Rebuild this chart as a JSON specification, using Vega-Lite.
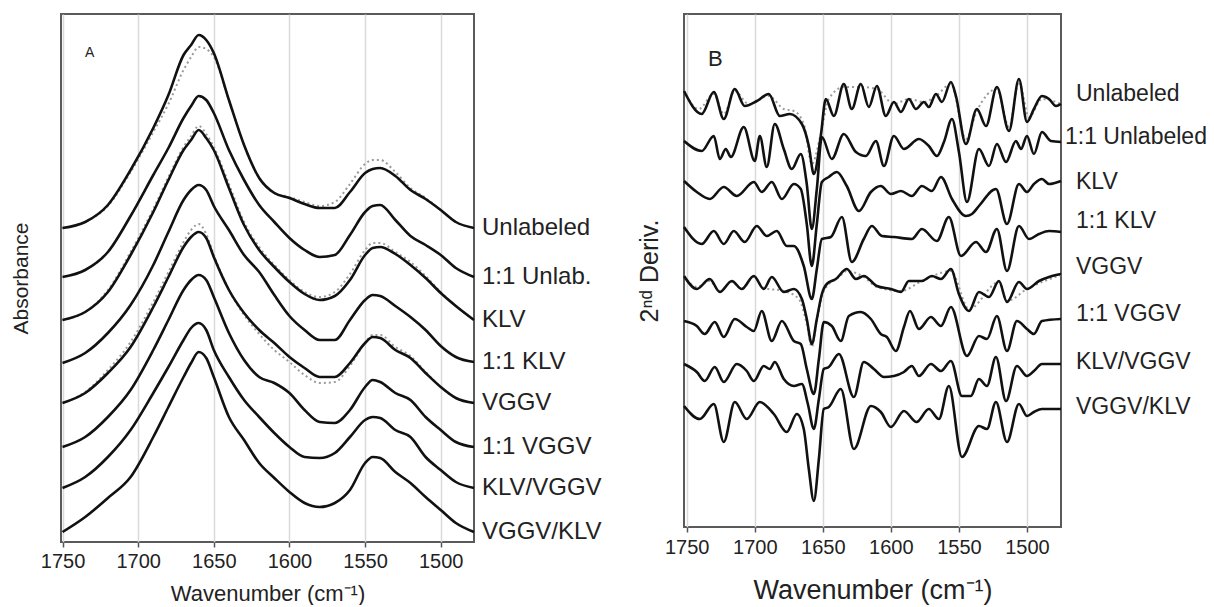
{
"$schema": "https://vega.github.io/schema/vega-lite/v6.json",
"background": "white",
"padding": {"left": 9, "top": 13, "right": 0, "bottom": 0},
"spacing": 33,
"config": {"font": "Liberation Sans", "view": {"stroke": "#5a5a5a", "strokeWidth": 2}, "axis": {"labelColor": "#222", "titleColor": "#222", "titleFontWeight": "normal", "labelFont": "Liberation Sans", "titleFont": "Liberation Sans"}},
"datasets": {
"a": [
{"s":"Unlabeled","k":"solid","wn":1750,"y":3.14},{"s":"Unlabeled","k":"solid","wn":1735,"y":3.20},{"s":"Unlabeled","k":"solid","wn":1720,"y":3.37},{"s":"Unlabeled","k":"solid","wn":1705,"y":3.72},{"s":"Unlabeled","k":"solid","wn":1690,"y":4.14},{"s":"Unlabeled","k":"solid","wn":1680,"y":4.47},{"s":"Unlabeled","k":"solid","wn":1670,"y":4.87},{"s":"Unlabeled","k":"solid","wn":1665,"y":4.97},{"s":"Unlabeled","k":"solid","wn":1660,"y":5.07},{"s":"Unlabeled","k":"solid","wn":1655,"y":5.02},{"s":"Unlabeled","k":"solid","wn":1650,"y":4.89},{"s":"Unlabeled","k":"solid","wn":1640,"y":4.42},{"s":"Unlabeled","k":"solid","wn":1630,"y":3.97},{"s":"Unlabeled","k":"solid","wn":1620,"y":3.64},{"s":"Unlabeled","k":"solid","wn":1610,"y":3.49},{"s":"Unlabeled","k":"solid","wn":1600,"y":3.44},{"s":"Unlabeled","k":"solid","wn":1590,"y":3.38},{"s":"Unlabeled","k":"solid","wn":1580,"y":3.34},{"s":"Unlabeled","k":"solid","wn":1570,"y":3.34},{"s":"Unlabeled","k":"solid","wn":1560,"y":3.50},{"s":"Unlabeled","k":"solid","wn":1550,"y":3.69},{"s":"Unlabeled","k":"solid","wn":1545,"y":3.73},{"s":"Unlabeled","k":"solid","wn":1540,"y":3.74},{"s":"Unlabeled","k":"solid","wn":1530,"y":3.66},{"s":"Unlabeled","k":"solid","wn":1520,"y":3.52},{"s":"Unlabeled","k":"solid","wn":1510,"y":3.43},{"s":"Unlabeled","k":"solid","wn":1500,"y":3.32},{"s":"Unlabeled","k":"solid","wn":1490,"y":3.20},{"s":"Unlabeled","k":"solid","wn":1478,"y":3.14},
{"s":"1:1 Unlab.","k":"solid","wn":1750,"y":2.65},{"s":"1:1 Unlab.","k":"solid","wn":1735,"y":2.72},{"s":"1:1 Unlab.","k":"solid","wn":1720,"y":2.90},{"s":"1:1 Unlab.","k":"solid","wn":1705,"y":3.26},{"s":"1:1 Unlab.","k":"solid","wn":1690,"y":3.67},{"s":"1:1 Unlab.","k":"solid","wn":1680,"y":3.94},{"s":"1:1 Unlab.","k":"solid","wn":1670,"y":4.24},{"s":"1:1 Unlab.","k":"solid","wn":1665,"y":4.36},{"s":"1:1 Unlab.","k":"solid","wn":1660,"y":4.46},{"s":"1:1 Unlab.","k":"solid","wn":1655,"y":4.42},{"s":"1:1 Unlab.","k":"solid","wn":1650,"y":4.29},{"s":"1:1 Unlab.","k":"solid","wn":1640,"y":3.92},{"s":"1:1 Unlab.","k":"solid","wn":1630,"y":3.62},{"s":"1:1 Unlab.","k":"solid","wn":1620,"y":3.37},{"s":"1:1 Unlab.","k":"solid","wn":1610,"y":3.20},{"s":"1:1 Unlab.","k":"solid","wn":1600,"y":3.04},{"s":"1:1 Unlab.","k":"solid","wn":1590,"y":2.92},{"s":"1:1 Unlab.","k":"solid","wn":1580,"y":2.85},{"s":"1:1 Unlab.","k":"solid","wn":1570,"y":2.87},{"s":"1:1 Unlab.","k":"solid","wn":1560,"y":3.07},{"s":"1:1 Unlab.","k":"solid","wn":1550,"y":3.30},{"s":"1:1 Unlab.","k":"solid","wn":1545,"y":3.36},{"s":"1:1 Unlab.","k":"solid","wn":1540,"y":3.37},{"s":"1:1 Unlab.","k":"solid","wn":1530,"y":3.22},{"s":"1:1 Unlab.","k":"solid","wn":1520,"y":3.06},{"s":"1:1 Unlab.","k":"solid","wn":1510,"y":2.97},{"s":"1:1 Unlab.","k":"solid","wn":1500,"y":2.87},{"s":"1:1 Unlab.","k":"solid","wn":1490,"y":2.74},{"s":"1:1 Unlab.","k":"solid","wn":1478,"y":2.65},
{"s":"KLV","k":"solid","wn":1750,"y":2.22},{"s":"KLV","k":"solid","wn":1735,"y":2.30},{"s":"KLV","k":"solid","wn":1720,"y":2.50},{"s":"KLV","k":"solid","wn":1705,"y":2.87},{"s":"KLV","k":"solid","wn":1690,"y":3.30},{"s":"KLV","k":"solid","wn":1680,"y":3.62},{"s":"KLV","k":"solid","wn":1670,"y":3.92},{"s":"KLV","k":"solid","wn":1665,"y":4.02},{"s":"KLV","k":"solid","wn":1660,"y":4.12},{"s":"KLV","k":"solid","wn":1655,"y":4.04},{"s":"KLV","k":"solid","wn":1650,"y":3.92},{"s":"KLV","k":"solid","wn":1640,"y":3.54},{"s":"KLV","k":"solid","wn":1630,"y":3.17},{"s":"KLV","k":"solid","wn":1620,"y":2.92},{"s":"KLV","k":"solid","wn":1610,"y":2.75},{"s":"KLV","k":"solid","wn":1600,"y":2.60},{"s":"KLV","k":"solid","wn":1590,"y":2.48},{"s":"KLV","k":"solid","wn":1580,"y":2.42},{"s":"KLV","k":"solid","wn":1570,"y":2.46},{"s":"KLV","k":"solid","wn":1560,"y":2.62},{"s":"KLV","k":"solid","wn":1550,"y":2.87},{"s":"KLV","k":"solid","wn":1545,"y":2.94},{"s":"KLV","k":"solid","wn":1540,"y":2.95},{"s":"KLV","k":"solid","wn":1530,"y":2.88},{"s":"KLV","k":"solid","wn":1520,"y":2.77},{"s":"KLV","k":"solid","wn":1510,"y":2.64},{"s":"KLV","k":"solid","wn":1500,"y":2.49},{"s":"KLV","k":"solid","wn":1490,"y":2.36},{"s":"KLV","k":"solid","wn":1478,"y":2.22},
{"s":"1:1 KLV","k":"solid","wn":1750,"y":1.79},{"s":"1:1 KLV","k":"solid","wn":1735,"y":1.89},{"s":"1:1 KLV","k":"solid","wn":1720,"y":2.09},{"s":"1:1 KLV","k":"solid","wn":1705,"y":2.37},{"s":"1:1 KLV","k":"solid","wn":1690,"y":2.77},{"s":"1:1 KLV","k":"solid","wn":1680,"y":3.10},{"s":"1:1 KLV","k":"solid","wn":1670,"y":3.42},{"s":"1:1 KLV","k":"solid","wn":1665,"y":3.52},{"s":"1:1 KLV","k":"solid","wn":1660,"y":3.57},{"s":"1:1 KLV","k":"solid","wn":1655,"y":3.52},{"s":"1:1 KLV","k":"solid","wn":1650,"y":3.36},{"s":"1:1 KLV","k":"solid","wn":1640,"y":3.12},{"s":"1:1 KLV","k":"solid","wn":1630,"y":2.87},{"s":"1:1 KLV","k":"solid","wn":1620,"y":2.70},{"s":"1:1 KLV","k":"solid","wn":1610,"y":2.47},{"s":"1:1 KLV","k":"solid","wn":1600,"y":2.26},{"s":"1:1 KLV","k":"solid","wn":1590,"y":2.12},{"s":"1:1 KLV","k":"solid","wn":1580,"y":2.02},{"s":"1:1 KLV","k":"solid","wn":1570,"y":2.02},{"s":"1:1 KLV","k":"solid","wn":1560,"y":2.22},{"s":"1:1 KLV","k":"solid","wn":1550,"y":2.42},{"s":"1:1 KLV","k":"solid","wn":1545,"y":2.47},{"s":"1:1 KLV","k":"solid","wn":1540,"y":2.46},{"s":"1:1 KLV","k":"solid","wn":1530,"y":2.36},{"s":"1:1 KLV","k":"solid","wn":1520,"y":2.25},{"s":"1:1 KLV","k":"solid","wn":1510,"y":2.12},{"s":"1:1 KLV","k":"solid","wn":1500,"y":1.96},{"s":"1:1 KLV","k":"solid","wn":1490,"y":1.85},{"s":"1:1 KLV","k":"solid","wn":1478,"y":1.80},
{"s":"VGGV","k":"solid","wn":1750,"y":1.39},{"s":"VGGV","k":"solid","wn":1735,"y":1.49},{"s":"VGGV","k":"solid","wn":1720,"y":1.69},{"s":"VGGV","k":"solid","wn":1705,"y":1.95},{"s":"VGGV","k":"solid","wn":1690,"y":2.35},{"s":"VGGV","k":"solid","wn":1680,"y":2.65},{"s":"VGGV","k":"solid","wn":1670,"y":2.95},{"s":"VGGV","k":"solid","wn":1665,"y":3.05},{"s":"VGGV","k":"solid","wn":1660,"y":3.10},{"s":"VGGV","k":"solid","wn":1655,"y":3.04},{"s":"VGGV","k":"solid","wn":1650,"y":2.85},{"s":"VGGV","k":"solid","wn":1640,"y":2.52},{"s":"VGGV","k":"solid","wn":1630,"y":2.29},{"s":"VGGV","k":"solid","wn":1620,"y":2.12},{"s":"VGGV","k":"solid","wn":1610,"y":1.99},{"s":"VGGV","k":"solid","wn":1600,"y":1.85},{"s":"VGGV","k":"solid","wn":1590,"y":1.74},{"s":"VGGV","k":"solid","wn":1580,"y":1.65},{"s":"VGGV","k":"solid","wn":1570,"y":1.65},{"s":"VGGV","k":"solid","wn":1560,"y":1.79},{"s":"VGGV","k":"solid","wn":1550,"y":1.99},{"s":"VGGV","k":"solid","wn":1545,"y":2.05},{"s":"VGGV","k":"solid","wn":1540,"y":2.04},{"s":"VGGV","k":"solid","wn":1530,"y":1.92},{"s":"VGGV","k":"solid","wn":1520,"y":1.84},{"s":"VGGV","k":"solid","wn":1510,"y":1.69},{"s":"VGGV","k":"solid","wn":1500,"y":1.55},{"s":"VGGV","k":"solid","wn":1490,"y":1.44},{"s":"VGGV","k":"solid","wn":1478,"y":1.39},
{"s":"1:1 VGGV","k":"solid","wn":1750,"y":0.95},{"s":"1:1 VGGV","k":"solid","wn":1735,"y":1.05},{"s":"1:1 VGGV","k":"solid","wn":1720,"y":1.25},{"s":"1:1 VGGV","k":"solid","wn":1705,"y":1.52},{"s":"1:1 VGGV","k":"solid","wn":1690,"y":1.92},{"s":"1:1 VGGV","k":"solid","wn":1680,"y":2.22},{"s":"1:1 VGGV","k":"solid","wn":1670,"y":2.52},{"s":"1:1 VGGV","k":"solid","wn":1665,"y":2.62},{"s":"1:1 VGGV","k":"solid","wn":1660,"y":2.67},{"s":"1:1 VGGV","k":"solid","wn":1655,"y":2.62},{"s":"1:1 VGGV","k":"solid","wn":1650,"y":2.45},{"s":"1:1 VGGV","k":"solid","wn":1640,"y":2.09},{"s":"1:1 VGGV","k":"solid","wn":1630,"y":1.82},{"s":"1:1 VGGV","k":"solid","wn":1620,"y":1.65},{"s":"1:1 VGGV","k":"solid","wn":1610,"y":1.59},{"s":"1:1 VGGV","k":"solid","wn":1600,"y":1.49},{"s":"1:1 VGGV","k":"solid","wn":1590,"y":1.32},{"s":"1:1 VGGV","k":"solid","wn":1580,"y":1.20},{"s":"1:1 VGGV","k":"solid","wn":1570,"y":1.19},{"s":"1:1 VGGV","k":"solid","wn":1560,"y":1.32},{"s":"1:1 VGGV","k":"solid","wn":1550,"y":1.55},{"s":"1:1 VGGV","k":"solid","wn":1545,"y":1.62},{"s":"1:1 VGGV","k":"solid","wn":1540,"y":1.60},{"s":"1:1 VGGV","k":"solid","wn":1530,"y":1.49},{"s":"1:1 VGGV","k":"solid","wn":1520,"y":1.42},{"s":"1:1 VGGV","k":"solid","wn":1510,"y":1.25},{"s":"1:1 VGGV","k":"solid","wn":1500,"y":1.12},{"s":"1:1 VGGV","k":"solid","wn":1490,"y":1.00},{"s":"1:1 VGGV","k":"solid","wn":1478,"y":0.95},
{"s":"KLV/VGGV","k":"solid","wn":1750,"y":0.54},{"s":"KLV/VGGV","k":"solid","wn":1735,"y":0.65},{"s":"KLV/VGGV","k":"solid","wn":1720,"y":0.85},{"s":"KLV/VGGV","k":"solid","wn":1705,"y":1.12},{"s":"KLV/VGGV","k":"solid","wn":1690,"y":1.49},{"s":"KLV/VGGV","k":"solid","wn":1680,"y":1.75},{"s":"KLV/VGGV","k":"solid","wn":1670,"y":2.02},{"s":"KLV/VGGV","k":"solid","wn":1665,"y":2.14},{"s":"KLV/VGGV","k":"solid","wn":1660,"y":2.19},{"s":"KLV/VGGV","k":"solid","wn":1655,"y":2.12},{"s":"KLV/VGGV","k":"solid","wn":1650,"y":1.92},{"s":"KLV/VGGV","k":"solid","wn":1640,"y":1.65},{"s":"KLV/VGGV","k":"solid","wn":1630,"y":1.42},{"s":"KLV/VGGV","k":"solid","wn":1620,"y":1.25},{"s":"KLV/VGGV","k":"solid","wn":1610,"y":1.09},{"s":"KLV/VGGV","k":"solid","wn":1600,"y":0.95},{"s":"KLV/VGGV","k":"solid","wn":1590,"y":0.85},{"s":"KLV/VGGV","k":"solid","wn":1580,"y":0.84},{"s":"KLV/VGGV","k":"solid","wn":1570,"y":0.89},{"s":"KLV/VGGV","k":"solid","wn":1560,"y":1.05},{"s":"KLV/VGGV","k":"solid","wn":1550,"y":1.22},{"s":"KLV/VGGV","k":"solid","wn":1545,"y":1.25},{"s":"KLV/VGGV","k":"solid","wn":1540,"y":1.24},{"s":"KLV/VGGV","k":"solid","wn":1530,"y":1.12},{"s":"KLV/VGGV","k":"solid","wn":1520,"y":1.05},{"s":"KLV/VGGV","k":"solid","wn":1510,"y":0.85},{"s":"KLV/VGGV","k":"solid","wn":1500,"y":0.72},{"s":"KLV/VGGV","k":"solid","wn":1490,"y":0.60},{"s":"KLV/VGGV","k":"solid","wn":1478,"y":0.54},
{"s":"VGGV/KLV","k":"solid","wn":1750,"y":0.10},{"s":"VGGV/KLV","k":"solid","wn":1735,"y":0.25},{"s":"VGGV/KLV","k":"solid","wn":1720,"y":0.44},{"s":"VGGV/KLV","k":"solid","wn":1705,"y":0.65},{"s":"VGGV/KLV","k":"solid","wn":1690,"y":1.05},{"s":"VGGV/KLV","k":"solid","wn":1680,"y":1.35},{"s":"VGGV/KLV","k":"solid","wn":1670,"y":1.65},{"s":"VGGV/KLV","k":"solid","wn":1665,"y":1.79},{"s":"VGGV/KLV","k":"solid","wn":1660,"y":1.90},{"s":"VGGV/KLV","k":"solid","wn":1655,"y":1.84},{"s":"VGGV/KLV","k":"solid","wn":1650,"y":1.65},{"s":"VGGV/KLV","k":"solid","wn":1640,"y":1.25},{"s":"VGGV/KLV","k":"solid","wn":1630,"y":1.02},{"s":"VGGV/KLV","k":"solid","wn":1620,"y":0.79},{"s":"VGGV/KLV","k":"solid","wn":1610,"y":0.64},{"s":"VGGV/KLV","k":"solid","wn":1600,"y":0.50},{"s":"VGGV/KLV","k":"solid","wn":1590,"y":0.39},{"s":"VGGV/KLV","k":"solid","wn":1580,"y":0.35},{"s":"VGGV/KLV","k":"solid","wn":1570,"y":0.39},{"s":"VGGV/KLV","k":"solid","wn":1560,"y":0.52},{"s":"VGGV/KLV","k":"solid","wn":1550,"y":0.79},{"s":"VGGV/KLV","k":"solid","wn":1545,"y":0.85},{"s":"VGGV/KLV","k":"solid","wn":1540,"y":0.84},{"s":"VGGV/KLV","k":"solid","wn":1530,"y":0.70},{"s":"VGGV/KLV","k":"solid","wn":1520,"y":0.59},{"s":"VGGV/KLV","k":"solid","wn":1510,"y":0.45},{"s":"VGGV/KLV","k":"solid","wn":1500,"y":0.32},{"s":"VGGV/KLV","k":"solid","wn":1490,"y":0.19},{"s":"VGGV/KLV","k":"solid","wn":1478,"y":0.10},
{"s":"Unlabeled","k":"dotted","wn":1750,"y":3.14},{"s":"Unlabeled","k":"dotted","wn":1735,"y":3.20},{"s":"Unlabeled","k":"dotted","wn":1720,"y":3.36},{"s":"Unlabeled","k":"dotted","wn":1705,"y":3.70},{"s":"Unlabeled","k":"dotted","wn":1690,"y":4.10},{"s":"Unlabeled","k":"dotted","wn":1680,"y":4.38},{"s":"Unlabeled","k":"dotted","wn":1670,"y":4.72},{"s":"Unlabeled","k":"dotted","wn":1665,"y":4.85},{"s":"Unlabeled","k":"dotted","wn":1660,"y":4.95},{"s":"Unlabeled","k":"dotted","wn":1655,"y":4.93},{"s":"Unlabeled","k":"dotted","wn":1650,"y":4.85},{"s":"Unlabeled","k":"dotted","wn":1640,"y":4.42},{"s":"Unlabeled","k":"dotted","wn":1630,"y":3.97},{"s":"Unlabeled","k":"dotted","wn":1620,"y":3.64},{"s":"Unlabeled","k":"dotted","wn":1610,"y":3.49},{"s":"Unlabeled","k":"dotted","wn":1600,"y":3.45},{"s":"Unlabeled","k":"dotted","wn":1590,"y":3.40},{"s":"Unlabeled","k":"dotted","wn":1580,"y":3.36},{"s":"Unlabeled","k":"dotted","wn":1570,"y":3.40},{"s":"Unlabeled","k":"dotted","wn":1560,"y":3.58},{"s":"Unlabeled","k":"dotted","wn":1550,"y":3.78},{"s":"Unlabeled","k":"dotted","wn":1545,"y":3.82},{"s":"Unlabeled","k":"dotted","wn":1540,"y":3.82},{"s":"Unlabeled","k":"dotted","wn":1530,"y":3.70},{"s":"Unlabeled","k":"dotted","wn":1520,"y":3.54},{"s":"Unlabeled","k":"dotted","wn":1510,"y":3.44},{"s":"Unlabeled","k":"dotted","wn":1500,"y":3.32},{"s":"Unlabeled","k":"dotted","wn":1490,"y":3.20},{"s":"Unlabeled","k":"dotted","wn":1478,"y":3.14},
{"s":"KLV","k":"dotted","wn":1750,"y":2.22},{"s":"KLV","k":"dotted","wn":1735,"y":2.30},{"s":"KLV","k":"dotted","wn":1720,"y":2.52},{"s":"KLV","k":"dotted","wn":1705,"y":2.90},{"s":"KLV","k":"dotted","wn":1690,"y":3.33},{"s":"KLV","k":"dotted","wn":1680,"y":3.65},{"s":"KLV","k":"dotted","wn":1670,"y":3.95},{"s":"KLV","k":"dotted","wn":1665,"y":4.06},{"s":"KLV","k":"dotted","wn":1660,"y":4.16},{"s":"KLV","k":"dotted","wn":1655,"y":4.08},{"s":"KLV","k":"dotted","wn":1650,"y":3.95},{"s":"KLV","k":"dotted","wn":1640,"y":3.58},{"s":"KLV","k":"dotted","wn":1630,"y":3.20},{"s":"KLV","k":"dotted","wn":1620,"y":2.95},{"s":"KLV","k":"dotted","wn":1610,"y":2.77},{"s":"KLV","k":"dotted","wn":1600,"y":2.62},{"s":"KLV","k":"dotted","wn":1590,"y":2.50},{"s":"KLV","k":"dotted","wn":1580,"y":2.45},{"s":"KLV","k":"dotted","wn":1570,"y":2.50},{"s":"KLV","k":"dotted","wn":1560,"y":2.68},{"s":"KLV","k":"dotted","wn":1550,"y":2.92},{"s":"KLV","k":"dotted","wn":1545,"y":2.99},{"s":"KLV","k":"dotted","wn":1540,"y":2.99},{"s":"KLV","k":"dotted","wn":1530,"y":2.90},{"s":"KLV","k":"dotted","wn":1520,"y":2.80},{"s":"KLV","k":"dotted","wn":1510,"y":2.66},{"s":"KLV","k":"dotted","wn":1500,"y":2.50},{"s":"KLV","k":"dotted","wn":1490,"y":2.36},{"s":"KLV","k":"dotted","wn":1478,"y":2.22},
{"s":"VGGV","k":"dotted","wn":1750,"y":1.39},{"s":"VGGV","k":"dotted","wn":1735,"y":1.50},{"s":"VGGV","k":"dotted","wn":1720,"y":1.72},{"s":"VGGV","k":"dotted","wn":1705,"y":2.00},{"s":"VGGV","k":"dotted","wn":1690,"y":2.40},{"s":"VGGV","k":"dotted","wn":1680,"y":2.70},{"s":"VGGV","k":"dotted","wn":1670,"y":3.00},{"s":"VGGV","k":"dotted","wn":1665,"y":3.12},{"s":"VGGV","k":"dotted","wn":1660,"y":3.18},{"s":"VGGV","k":"dotted","wn":1655,"y":3.08},{"s":"VGGV","k":"dotted","wn":1650,"y":2.87},{"s":"VGGV","k":"dotted","wn":1640,"y":2.52},{"s":"VGGV","k":"dotted","wn":1630,"y":2.27},{"s":"VGGV","k":"dotted","wn":1620,"y":2.08},{"s":"VGGV","k":"dotted","wn":1610,"y":1.92},{"s":"VGGV","k":"dotted","wn":1600,"y":1.80},{"s":"VGGV","k":"dotted","wn":1590,"y":1.67},{"s":"VGGV","k":"dotted","wn":1580,"y":1.59},{"s":"VGGV","k":"dotted","wn":1570,"y":1.60},{"s":"VGGV","k":"dotted","wn":1560,"y":1.76},{"s":"VGGV","k":"dotted","wn":1550,"y":1.99},{"s":"VGGV","k":"dotted","wn":1545,"y":2.07},{"s":"VGGV","k":"dotted","wn":1540,"y":2.07},{"s":"VGGV","k":"dotted","wn":1530,"y":1.95},{"s":"VGGV","k":"dotted","wn":1520,"y":1.86},{"s":"VGGV","k":"dotted","wn":1510,"y":1.70},{"s":"VGGV","k":"dotted","wn":1500,"y":1.55},{"s":"VGGV","k":"dotted","wn":1490,"y":1.44},{"s":"VGGV","k":"dotted","wn":1478,"y":1.39}
],
"b": [
{"s":"Unlabeled","k":"solid","wn":1752,"y":4.36},{"s":"Unlabeled","k":"solid","wn":1739.0,"y":4.13},{"s":"Unlabeled","k":"solid","wn":1730.1,"y":4.35},{"s":"Unlabeled","k":"solid","wn":1722.8,"y":4.08},{"s":"Unlabeled","k":"solid","wn":1714.7,"y":4.38},{"s":"Unlabeled","k":"solid","wn":1707.4,"y":4.21},{"s":"Unlabeled","k":"solid","wn":1698.5,"y":4.26},{"s":"Unlabeled","k":"solid","wn":1689.7,"y":4.33},{"s":"Unlabeled","k":"solid","wn":1681.6,"y":4.11},{"s":"Unlabeled","k":"solid","wn":1674.3,"y":4.13},{"s":"Unlabeled","k":"solid","wn":1665.4,"y":4.03},{"s":"Unlabeled","k":"solid","wn":1660.3,"y":3.81},{"s":"Unlabeled","k":"solid","wn":1656.6,"y":3.53},{"s":"Unlabeled","k":"solid","wn":1651.5,"y":3.91},{"s":"Unlabeled","k":"solid","wn":1647.8,"y":4.28},{"s":"Unlabeled","k":"solid","wn":1641.9,"y":4.11},{"s":"Unlabeled","k":"solid","wn":1634.6,"y":4.43},{"s":"Unlabeled","k":"solid","wn":1628.7,"y":4.18},{"s":"Unlabeled","k":"solid","wn":1622.1,"y":4.43},{"s":"Unlabeled","k":"solid","wn":1616.2,"y":4.20},{"s":"Unlabeled","k":"solid","wn":1610.3,"y":4.41},{"s":"Unlabeled","k":"solid","wn":1603.7,"y":4.11},{"s":"Unlabeled","k":"solid","wn":1597.8,"y":4.25},{"s":"Unlabeled","k":"solid","wn":1592.6,"y":4.15},{"s":"Unlabeled","k":"solid","wn":1586.8,"y":4.28},{"s":"Unlabeled","k":"solid","wn":1581.6,"y":4.18},{"s":"Unlabeled","k":"solid","wn":1575.7,"y":4.25},{"s":"Unlabeled","k":"solid","wn":1572.1,"y":4.20},{"s":"Unlabeled","k":"solid","wn":1566.9,"y":4.33},{"s":"Unlabeled","k":"solid","wn":1562.5,"y":4.25},{"s":"Unlabeled","k":"solid","wn":1555.9,"y":4.45},{"s":"Unlabeled","k":"solid","wn":1552.2,"y":4.31},{"s":"Unlabeled","k":"solid","wn":1544.9,"y":3.83},{"s":"Unlabeled","k":"solid","wn":1536.8,"y":4.18},{"s":"Unlabeled","k":"solid","wn":1530.1,"y":4.01},{"s":"Unlabeled","k":"solid","wn":1522.1,"y":4.40},{"s":"Unlabeled","k":"solid","wn":1513.2,"y":3.96},{"s":"Unlabeled","k":"solid","wn":1505.9,"y":4.48},{"s":"Unlabeled","k":"solid","wn":1500.0,"y":4.05},{"s":"Unlabeled","k":"solid","wn":1494.9,"y":4.18},{"s":"Unlabeled","k":"solid","wn":1489.0,"y":4.31},{"s":"Unlabeled","k":"solid","wn":1483.8,"y":4.28},{"s":"Unlabeled","k":"solid","wn":1478.7,"y":4.21},{"s":"Unlabeled","k":"solid","wn":1475,"y":4.23},
{"s":"1:1 Unlabeled","k":"solid","wn":1752,"y":3.86},{"s":"1:1 Unlabeled","k":"solid","wn":1739.0,"y":3.76},{"s":"1:1 Unlabeled","k":"solid","wn":1730.1,"y":3.91},{"s":"1:1 Unlabeled","k":"solid","wn":1725.7,"y":3.68},{"s":"1:1 Unlabeled","k":"solid","wn":1721.3,"y":3.78},{"s":"1:1 Unlabeled","k":"solid","wn":1717.6,"y":3.70},{"s":"1:1 Unlabeled","k":"solid","wn":1708.1,"y":4.00},{"s":"1:1 Unlabeled","k":"solid","wn":1700.0,"y":3.66},{"s":"1:1 Unlabeled","k":"solid","wn":1696.3,"y":3.91},{"s":"1:1 Unlabeled","k":"solid","wn":1691.2,"y":3.60},{"s":"1:1 Unlabeled","k":"solid","wn":1685.3,"y":4.03},{"s":"1:1 Unlabeled","k":"solid","wn":1678.7,"y":3.78},{"s":"1:1 Unlabeled","k":"solid","wn":1672.8,"y":3.58},{"s":"1:1 Unlabeled","k":"solid","wn":1666.2,"y":3.73},{"s":"1:1 Unlabeled","k":"solid","wn":1661.8,"y":3.43},{"s":"1:1 Unlabeled","k":"solid","wn":1658.1,"y":2.98},{"s":"1:1 Unlabeled","k":"solid","wn":1654.4,"y":3.38},{"s":"1:1 Unlabeled","k":"solid","wn":1650.7,"y":3.90},{"s":"1:1 Unlabeled","k":"solid","wn":1643.4,"y":3.68},{"s":"1:1 Unlabeled","k":"solid","wn":1634.6,"y":3.93},{"s":"1:1 Unlabeled","k":"solid","wn":1625.7,"y":3.75},{"s":"1:1 Unlabeled","k":"solid","wn":1618.4,"y":3.71},{"s":"1:1 Unlabeled","k":"solid","wn":1611.0,"y":3.86},{"s":"1:1 Unlabeled","k":"solid","wn":1605.1,"y":3.61},{"s":"1:1 Unlabeled","k":"solid","wn":1597.8,"y":3.91},{"s":"1:1 Unlabeled","k":"solid","wn":1590.4,"y":3.78},{"s":"1:1 Unlabeled","k":"solid","wn":1579.4,"y":3.88},{"s":"1:1 Unlabeled","k":"solid","wn":1572.1,"y":3.81},{"s":"1:1 Unlabeled","k":"solid","wn":1566.2,"y":3.71},{"s":"1:1 Unlabeled","k":"solid","wn":1561.0,"y":3.85},{"s":"1:1 Unlabeled","k":"solid","wn":1555.1,"y":4.08},{"s":"1:1 Unlabeled","k":"solid","wn":1550.0,"y":3.75},{"s":"1:1 Unlabeled","k":"solid","wn":1544.1,"y":3.25},{"s":"1:1 Unlabeled","k":"solid","wn":1535.3,"y":3.78},{"s":"1:1 Unlabeled","k":"solid","wn":1527.9,"y":3.61},{"s":"1:1 Unlabeled","k":"solid","wn":1522.1,"y":3.83},{"s":"1:1 Unlabeled","k":"solid","wn":1515.4,"y":3.65},{"s":"1:1 Unlabeled","k":"solid","wn":1508.1,"y":3.86},{"s":"1:1 Unlabeled","k":"solid","wn":1504.4,"y":3.78},{"s":"1:1 Unlabeled","k":"solid","wn":1500.0,"y":3.91},{"s":"1:1 Unlabeled","k":"solid","wn":1494.9,"y":3.73},{"s":"1:1 Unlabeled","k":"solid","wn":1489.0,"y":3.95},{"s":"1:1 Unlabeled","k":"solid","wn":1482.4,"y":3.86},{"s":"1:1 Unlabeled","k":"solid","wn":1475,"y":3.85},
{"s":"KLV","k":"solid","wn":1752,"y":3.46},{"s":"KLV","k":"solid","wn":1742.6,"y":3.35},{"s":"KLV","k":"solid","wn":1733.1,"y":3.28},{"s":"KLV","k":"solid","wn":1722.8,"y":3.40},{"s":"KLV","k":"solid","wn":1713.2,"y":3.31},{"s":"KLV","k":"solid","wn":1700.7,"y":3.45},{"s":"KLV","k":"solid","wn":1694.9,"y":3.35},{"s":"KLV","k":"solid","wn":1687.5,"y":3.45},{"s":"KLV","k":"solid","wn":1680.1,"y":3.28},{"s":"KLV","k":"solid","wn":1671.3,"y":3.43},{"s":"KLV","k":"solid","wn":1666.2,"y":3.38},{"s":"KLV","k":"solid","wn":1661.8,"y":3.03},{"s":"KLV","k":"solid","wn":1658.1,"y":2.61},{"s":"KLV","k":"solid","wn":1654.4,"y":3.03},{"s":"KLV","k":"solid","wn":1650.7,"y":3.45},{"s":"KLV","k":"solid","wn":1645.6,"y":3.50},{"s":"KLV","k":"solid","wn":1639.7,"y":3.55},{"s":"KLV","k":"solid","wn":1632.4,"y":3.41},{"s":"KLV","k":"solid","wn":1623.5,"y":3.16},{"s":"KLV","k":"solid","wn":1614.7,"y":3.35},{"s":"KLV","k":"solid","wn":1607.4,"y":3.41},{"s":"KLV","k":"solid","wn":1600.0,"y":3.33},{"s":"KLV","k":"solid","wn":1592.6,"y":3.36},{"s":"KLV","k":"solid","wn":1584.6,"y":3.31},{"s":"KLV","k":"solid","wn":1577.2,"y":3.41},{"s":"KLV","k":"solid","wn":1569.9,"y":3.36},{"s":"KLV","k":"solid","wn":1563.2,"y":3.50},{"s":"KLV","k":"solid","wn":1555.1,"y":3.28},{"s":"KLV","k":"solid","wn":1544.9,"y":3.11},{"s":"KLV","k":"solid","wn":1540.4,"y":3.13},{"s":"KLV","k":"solid","wn":1535.3,"y":3.21},{"s":"KLV","k":"solid","wn":1522.8,"y":3.38},{"s":"KLV","k":"solid","wn":1514.7,"y":3.03},{"s":"KLV","k":"solid","wn":1505.9,"y":3.43},{"s":"KLV","k":"solid","wn":1500.0,"y":3.35},{"s":"KLV","k":"solid","wn":1494.9,"y":3.43},{"s":"KLV","k":"solid","wn":1489.0,"y":3.48},{"s":"KLV","k":"solid","wn":1483.8,"y":3.43},{"s":"KLV","k":"solid","wn":1475,"y":3.46},
{"s":"1:1 KLV","k":"solid","wn":1752,"y":3.00},{"s":"1:1 KLV","k":"solid","wn":1739.0,"y":2.83},{"s":"1:1 KLV","k":"solid","wn":1730.1,"y":2.96},{"s":"1:1 KLV","k":"solid","wn":1722.8,"y":2.83},{"s":"1:1 KLV","k":"solid","wn":1715.4,"y":2.96},{"s":"1:1 KLV","k":"solid","wn":1707.4,"y":2.85},{"s":"1:1 KLV","k":"solid","wn":1698.5,"y":3.01},{"s":"1:1 KLV","k":"solid","wn":1691.2,"y":2.91},{"s":"1:1 KLV","k":"solid","wn":1683.8,"y":2.96},{"s":"1:1 KLV","k":"solid","wn":1676.5,"y":2.81},{"s":"1:1 KLV","k":"solid","wn":1671.3,"y":2.81},{"s":"1:1 KLV","k":"solid","wn":1664.0,"y":2.61},{"s":"1:1 KLV","k":"solid","wn":1658.1,"y":2.28},{"s":"1:1 KLV","k":"solid","wn":1654.4,"y":2.58},{"s":"1:1 KLV","k":"solid","wn":1650.7,"y":2.88},{"s":"1:1 KLV","k":"solid","wn":1644.1,"y":2.90},{"s":"1:1 KLV","k":"solid","wn":1636.0,"y":3.10},{"s":"1:1 KLV","k":"solid","wn":1628.7,"y":2.65},{"s":"1:1 KLV","k":"solid","wn":1619.9,"y":2.88},{"s":"1:1 KLV","k":"solid","wn":1614.0,"y":3.01},{"s":"1:1 KLV","k":"solid","wn":1606.6,"y":2.91},{"s":"1:1 KLV","k":"solid","wn":1597.8,"y":2.90},{"s":"1:1 KLV","k":"solid","wn":1584.6,"y":2.88},{"s":"1:1 KLV","k":"solid","wn":1577.2,"y":2.98},{"s":"1:1 KLV","k":"solid","wn":1566.2,"y":2.86},{"s":"1:1 KLV","k":"solid","wn":1557.4,"y":3.10},{"s":"1:1 KLV","k":"solid","wn":1548.5,"y":2.71},{"s":"1:1 KLV","k":"solid","wn":1537.5,"y":2.85},{"s":"1:1 KLV","k":"solid","wn":1530.1,"y":2.75},{"s":"1:1 KLV","k":"solid","wn":1522.1,"y":2.98},{"s":"1:1 KLV","k":"solid","wn":1514.7,"y":2.56},{"s":"1:1 KLV","k":"solid","wn":1505.9,"y":3.01},{"s":"1:1 KLV","k":"solid","wn":1498.5,"y":2.88},{"s":"1:1 KLV","k":"solid","wn":1491.2,"y":2.93},{"s":"1:1 KLV","k":"solid","wn":1483.8,"y":2.96},{"s":"1:1 KLV","k":"solid","wn":1475,"y":2.95},
{"s":"VGGV","k":"solid","wn":1752,"y":2.51},{"s":"VGGV","k":"solid","wn":1742.6,"y":2.38},{"s":"VGGV","k":"solid","wn":1733.1,"y":2.48},{"s":"VGGV","k":"solid","wn":1725.7,"y":2.35},{"s":"VGGV","k":"solid","wn":1716.9,"y":2.46},{"s":"VGGV","k":"solid","wn":1709.6,"y":2.38},{"s":"VGGV","k":"solid","wn":1700.7,"y":2.51},{"s":"VGGV","k":"solid","wn":1693.4,"y":2.38},{"s":"VGGV","k":"solid","wn":1687.5,"y":2.50},{"s":"VGGV","k":"solid","wn":1678.7,"y":2.35},{"s":"VGGV","k":"solid","wn":1671.3,"y":2.38},{"s":"VGGV","k":"solid","wn":1665.4,"y":2.28},{"s":"VGGV","k":"solid","wn":1661.8,"y":2.08},{"s":"VGGV","k":"solid","wn":1658.1,"y":1.83},{"s":"VGGV","k":"solid","wn":1654.4,"y":2.08},{"s":"VGGV","k":"solid","wn":1650.7,"y":2.33},{"s":"VGGV","k":"solid","wn":1647.1,"y":2.43},{"s":"VGGV","k":"solid","wn":1640.4,"y":2.48},{"s":"VGGV","k":"solid","wn":1632.4,"y":2.58},{"s":"VGGV","k":"solid","wn":1625.7,"y":2.48},{"s":"VGGV","k":"solid","wn":1619.9,"y":2.51},{"s":"VGGV","k":"solid","wn":1610.3,"y":2.41},{"s":"VGGV","k":"solid","wn":1600.0,"y":2.38},{"s":"VGGV","k":"solid","wn":1592.6,"y":2.35},{"s":"VGGV","k":"solid","wn":1586.8,"y":2.46},{"s":"VGGV","k":"solid","wn":1577.2,"y":2.46},{"s":"VGGV","k":"solid","wn":1569.9,"y":2.51},{"s":"VGGV","k":"solid","wn":1563.2,"y":2.48},{"s":"VGGV","k":"solid","wn":1555.9,"y":2.58},{"s":"VGGV","k":"solid","wn":1550.0,"y":2.33},{"s":"VGGV","k":"solid","wn":1542.6,"y":2.16},{"s":"VGGV","k":"solid","wn":1535.3,"y":2.35},{"s":"VGGV","k":"solid","wn":1527.9,"y":2.30},{"s":"VGGV","k":"solid","wn":1520.6,"y":2.46},{"s":"VGGV","k":"solid","wn":1514.7,"y":2.25},{"s":"VGGV","k":"solid","wn":1505.9,"y":2.45},{"s":"VGGV","k":"solid","wn":1500.0,"y":2.38},{"s":"VGGV","k":"solid","wn":1491.2,"y":2.46},{"s":"VGGV","k":"solid","wn":1483.8,"y":2.50},{"s":"VGGV","k":"solid","wn":1475,"y":2.53},
{"s":"1:1 VGGV","k":"solid","wn":1752,"y":2.06},{"s":"1:1 VGGV","k":"solid","wn":1742.6,"y":2.01},{"s":"1:1 VGGV","k":"solid","wn":1736.8,"y":1.93},{"s":"1:1 VGGV","k":"solid","wn":1729.4,"y":2.05},{"s":"1:1 VGGV","k":"solid","wn":1722.8,"y":1.90},{"s":"1:1 VGGV","k":"solid","wn":1714.7,"y":2.08},{"s":"1:1 VGGV","k":"solid","wn":1705.9,"y":2.00},{"s":"1:1 VGGV","k":"solid","wn":1700.7,"y":1.96},{"s":"1:1 VGGV","k":"solid","wn":1694.9,"y":2.16},{"s":"1:1 VGGV","k":"solid","wn":1687.5,"y":1.86},{"s":"1:1 VGGV","k":"solid","wn":1680.1,"y":2.06},{"s":"1:1 VGGV","k":"solid","wn":1671.3,"y":1.86},{"s":"1:1 VGGV","k":"solid","wn":1666.2,"y":1.83},{"s":"1:1 VGGV","k":"solid","wn":1661.8,"y":1.58},{"s":"1:1 VGGV","k":"solid","wn":1656.6,"y":1.33},{"s":"1:1 VGGV","k":"solid","wn":1652.9,"y":1.68},{"s":"1:1 VGGV","k":"solid","wn":1649.3,"y":2.05},{"s":"1:1 VGGV","k":"solid","wn":1643.4,"y":2.01},{"s":"1:1 VGGV","k":"solid","wn":1636.8,"y":1.86},{"s":"1:1 VGGV","k":"solid","wn":1630.9,"y":2.11},{"s":"1:1 VGGV","k":"solid","wn":1622.1,"y":2.15},{"s":"1:1 VGGV","k":"solid","wn":1614.7,"y":2.08},{"s":"1:1 VGGV","k":"solid","wn":1607.4,"y":1.93},{"s":"1:1 VGGV","k":"solid","wn":1603.0,"y":1.90},{"s":"1:1 VGGV","k":"solid","wn":1596.3,"y":1.76},{"s":"1:1 VGGV","k":"solid","wn":1590.4,"y":2.00},{"s":"1:1 VGGV","k":"solid","wn":1586.0,"y":2.16},{"s":"1:1 VGGV","k":"solid","wn":1579.4,"y":1.98},{"s":"1:1 VGGV","k":"solid","wn":1570.6,"y":2.10},{"s":"1:1 VGGV","k":"solid","wn":1563.2,"y":2.01},{"s":"1:1 VGGV","k":"solid","wn":1555.9,"y":2.20},{"s":"1:1 VGGV","k":"solid","wn":1544.1,"y":1.71},{"s":"1:1 VGGV","k":"solid","wn":1535.3,"y":1.91},{"s":"1:1 VGGV","k":"solid","wn":1529.4,"y":1.88},{"s":"1:1 VGGV","k":"solid","wn":1522.1,"y":2.11},{"s":"1:1 VGGV","k":"solid","wn":1514.7,"y":1.76},{"s":"1:1 VGGV","k":"solid","wn":1507.4,"y":2.06},{"s":"1:1 VGGV","k":"solid","wn":1500.0,"y":1.98},{"s":"1:1 VGGV","k":"solid","wn":1494.9,"y":1.93},{"s":"1:1 VGGV","k":"solid","wn":1489.0,"y":2.06},{"s":"1:1 VGGV","k":"solid","wn":1475,"y":2.08},
{"s":"KLV/VGGV","k":"solid","wn":1752,"y":1.63},{"s":"KLV/VGGV","k":"solid","wn":1742.6,"y":1.55},{"s":"KLV/VGGV","k":"solid","wn":1736.8,"y":1.46},{"s":"KLV/VGGV","k":"solid","wn":1729.4,"y":1.60},{"s":"KLV/VGGV","k":"solid","wn":1722.8,"y":1.45},{"s":"KLV/VGGV","k":"solid","wn":1713.2,"y":1.63},{"s":"KLV/VGGV","k":"solid","wn":1705.9,"y":1.56},{"s":"KLV/VGGV","k":"solid","wn":1700.7,"y":1.46},{"s":"KLV/VGGV","k":"solid","wn":1693.4,"y":1.61},{"s":"KLV/VGGV","k":"solid","wn":1689.0,"y":1.58},{"s":"KLV/VGGV","k":"solid","wn":1685.3,"y":1.65},{"s":"KLV/VGGV","k":"solid","wn":1678.7,"y":1.48},{"s":"KLV/VGGV","k":"solid","wn":1671.3,"y":1.41},{"s":"KLV/VGGV","k":"solid","wn":1665.4,"y":1.43},{"s":"KLV/VGGV","k":"solid","wn":1661.0,"y":1.23},{"s":"KLV/VGGV","k":"solid","wn":1656.6,"y":0.98},{"s":"KLV/VGGV","k":"solid","wn":1652.9,"y":1.28},{"s":"KLV/VGGV","k":"solid","wn":1649.3,"y":1.58},{"s":"KLV/VGGV","k":"solid","wn":1645.6,"y":1.60},{"s":"KLV/VGGV","k":"solid","wn":1638.2,"y":1.73},{"s":"KLV/VGGV","k":"solid","wn":1627.2,"y":1.30},{"s":"KLV/VGGV","k":"solid","wn":1619.9,"y":1.65},{"s":"KLV/VGGV","k":"solid","wn":1612.5,"y":1.58},{"s":"KLV/VGGV","k":"solid","wn":1605.1,"y":1.50},{"s":"KLV/VGGV","k":"solid","wn":1597.8,"y":1.51},{"s":"KLV/VGGV","k":"solid","wn":1590.4,"y":1.55},{"s":"KLV/VGGV","k":"solid","wn":1584.6,"y":1.61},{"s":"KLV/VGGV","k":"solid","wn":1579.4,"y":1.51},{"s":"KLV/VGGV","k":"solid","wn":1570.6,"y":1.63},{"s":"KLV/VGGV","k":"solid","wn":1563.2,"y":1.56},{"s":"KLV/VGGV","k":"solid","wn":1555.9,"y":1.66},{"s":"KLV/VGGV","k":"solid","wn":1547.8,"y":1.31},{"s":"KLV/VGGV","k":"solid","wn":1541.2,"y":1.31},{"s":"KLV/VGGV","k":"solid","wn":1535.3,"y":1.48},{"s":"KLV/VGGV","k":"solid","wn":1529.4,"y":1.41},{"s":"KLV/VGGV","k":"solid","wn":1522.8,"y":1.70},{"s":"KLV/VGGV","k":"solid","wn":1515.4,"y":1.26},{"s":"KLV/VGGV","k":"solid","wn":1507.4,"y":1.61},{"s":"KLV/VGGV","k":"solid","wn":1500.0,"y":1.51},{"s":"KLV/VGGV","k":"solid","wn":1494.9,"y":1.56},{"s":"KLV/VGGV","k":"solid","wn":1489.0,"y":1.63},{"s":"KLV/VGGV","k":"solid","wn":1475,"y":1.63},
{"s":"VGGV/KLV","k":"solid","wn":1752,"y":1.21},{"s":"VGGV/KLV","k":"solid","wn":1740.4,"y":1.08},{"s":"VGGV/KLV","k":"solid","wn":1730.1,"y":1.23},{"s":"VGGV/KLV","k":"solid","wn":1722.8,"y":0.85},{"s":"VGGV/KLV","k":"solid","wn":1714.7,"y":1.25},{"s":"VGGV/KLV","k":"solid","wn":1705.9,"y":1.08},{"s":"VGGV/KLV","k":"solid","wn":1696.3,"y":1.25},{"s":"VGGV/KLV","k":"solid","wn":1686.0,"y":1.13},{"s":"VGGV/KLV","k":"solid","wn":1676.5,"y":0.95},{"s":"VGGV/KLV","k":"solid","wn":1669.1,"y":1.13},{"s":"VGGV/KLV","k":"solid","wn":1664.0,"y":0.98},{"s":"VGGV/KLV","k":"solid","wn":1660.3,"y":0.58},{"s":"VGGV/KLV","k":"solid","wn":1656.6,"y":0.26},{"s":"VGGV/KLV","k":"solid","wn":1652.9,"y":0.68},{"s":"VGGV/KLV","k":"solid","wn":1649.3,"y":1.18},{"s":"VGGV/KLV","k":"solid","wn":1645.6,"y":1.20},{"s":"VGGV/KLV","k":"solid","wn":1636.8,"y":1.38},{"s":"VGGV/KLV","k":"solid","wn":1627.2,"y":0.78},{"s":"VGGV/KLV","k":"solid","wn":1614.7,"y":1.21},{"s":"VGGV/KLV","k":"solid","wn":1607.4,"y":1.15},{"s":"VGGV/KLV","k":"solid","wn":1600.0,"y":1.00},{"s":"VGGV/KLV","k":"solid","wn":1590.4,"y":1.16},{"s":"VGGV/KLV","k":"solid","wn":1581.1,"y":1.05},{"s":"VGGV/KLV","k":"solid","wn":1572.1,"y":1.18},{"s":"VGGV/KLV","k":"solid","wn":1564.7,"y":1.08},{"s":"VGGV/KLV","k":"solid","wn":1557.4,"y":1.41},{"s":"VGGV/KLV","k":"solid","wn":1547.8,"y":0.70},{"s":"VGGV/KLV","k":"solid","wn":1535.3,"y":1.01},{"s":"VGGV/KLV","k":"solid","wn":1529.4,"y":0.98},{"s":"VGGV/KLV","k":"solid","wn":1522.8,"y":1.25},{"s":"VGGV/KLV","k":"solid","wn":1514.7,"y":0.85},{"s":"VGGV/KLV","k":"solid","wn":1505.9,"y":1.23},{"s":"VGGV/KLV","k":"solid","wn":1500.0,"y":1.11},{"s":"VGGV/KLV","k":"solid","wn":1494.9,"y":1.15},{"s":"VGGV/KLV","k":"solid","wn":1489.0,"y":1.18},{"s":"VGGV/KLV","k":"solid","wn":1475,"y":1.18},
{"s":"Unlabeled","k":"dotted","wn":1752,"y":4.36},{"s":"Unlabeled","k":"dotted","wn":1741.2,"y":4.18},{"s":"Unlabeled","k":"dotted","wn":1730.1,"y":4.33},{"s":"Unlabeled","k":"dotted","wn":1722.8,"y":4.13},{"s":"Unlabeled","k":"dotted","wn":1714.7,"y":4.36},{"s":"Unlabeled","k":"dotted","wn":1704.4,"y":4.23},{"s":"Unlabeled","k":"dotted","wn":1689.7,"y":4.31},{"s":"Unlabeled","k":"dotted","wn":1678.7,"y":4.18},{"s":"Unlabeled","k":"dotted","wn":1671.3,"y":4.16},{"s":"Unlabeled","k":"dotted","wn":1664.0,"y":4.03},{"s":"Unlabeled","k":"dotted","wn":1658.1,"y":3.63},{"s":"Unlabeled","k":"dotted","wn":1651.5,"y":3.93},{"s":"Unlabeled","k":"dotted","wn":1645.6,"y":4.28},{"s":"Unlabeled","k":"dotted","wn":1634.6,"y":4.40},{"s":"Unlabeled","k":"dotted","wn":1622.1,"y":4.40},{"s":"Unlabeled","k":"dotted","wn":1610.3,"y":4.38},{"s":"Unlabeled","k":"dotted","wn":1597.8,"y":4.23},{"s":"Unlabeled","k":"dotted","wn":1586.8,"y":4.28},{"s":"Unlabeled","k":"dotted","wn":1575.7,"y":4.25},{"s":"Unlabeled","k":"dotted","wn":1566.9,"y":4.31},{"s":"Unlabeled","k":"dotted","wn":1555.9,"y":4.43},{"s":"Unlabeled","k":"dotted","wn":1544.9,"y":3.88},{"s":"Unlabeled","k":"dotted","wn":1536.8,"y":4.16},{"s":"Unlabeled","k":"dotted","wn":1522.1,"y":4.38},{"s":"Unlabeled","k":"dotted","wn":1513.2,"y":4.00},{"s":"Unlabeled","k":"dotted","wn":1505.9,"y":4.45},{"s":"Unlabeled","k":"dotted","wn":1498.5,"y":4.10},{"s":"Unlabeled","k":"dotted","wn":1489.0,"y":4.28},{"s":"Unlabeled","k":"dotted","wn":1475,"y":4.23},
{"s":"VGGV","k":"dotted","wn":1752,"y":2.51},{"s":"VGGV","k":"dotted","wn":1742.6,"y":2.40},{"s":"VGGV","k":"dotted","wn":1733.1,"y":2.46},{"s":"VGGV","k":"dotted","wn":1725.7,"y":2.36},{"s":"VGGV","k":"dotted","wn":1716.9,"y":2.45},{"s":"VGGV","k":"dotted","wn":1709.6,"y":2.38},{"s":"VGGV","k":"dotted","wn":1700.7,"y":2.50},{"s":"VGGV","k":"dotted","wn":1693.4,"y":2.39},{"s":"VGGV","k":"dotted","wn":1678.7,"y":2.36},{"s":"VGGV","k":"dotted","wn":1667.6,"y":2.28},{"s":"VGGV","k":"dotted","wn":1661.8,"y":2.03},{"s":"VGGV","k":"dotted","wn":1658.1,"y":1.80},{"s":"VGGV","k":"dotted","wn":1654.4,"y":2.06},{"s":"VGGV","k":"dotted","wn":1649.3,"y":2.36},{"s":"VGGV","k":"dotted","wn":1638.2,"y":2.50},{"s":"VGGV","k":"dotted","wn":1632.4,"y":2.56},{"s":"VGGV","k":"dotted","wn":1619.9,"y":2.50},{"s":"VGGV","k":"dotted","wn":1610.3,"y":2.40},{"s":"VGGV","k":"dotted","wn":1592.6,"y":2.36},{"s":"VGGV","k":"dotted","wn":1577.2,"y":2.46},{"s":"VGGV","k":"dotted","wn":1555.9,"y":2.56},{"s":"VGGV","k":"dotted","wn":1542.6,"y":2.18},{"s":"VGGV","k":"dotted","wn":1520.6,"y":2.45},{"s":"VGGV","k":"dotted","wn":1514.7,"y":2.26},{"s":"VGGV","k":"dotted","wn":1500.0,"y":2.38},{"s":"VGGV","k":"dotted","wn":1475,"y":2.52}
],
"bl": [
{"s":"Unlabeled","wn":1475,"y":4.33},{"s":"1:1 Unlabeled","wn":1475,"y":3.90},{"s":"KLV","wn":1475,"y":3.45},{"s":"1:1 KLV","wn":1475,"y":3.06},{"s":"VGGV","wn":1475,"y":2.60},{"s":"1:1 VGGV","wn":1475,"y":2.13},{"s":"KLV/VGGV","wn":1475,"y":1.65},{"s":"VGGV/KLV","wn":1475,"y":1.20}
]
},
"hconcat": [
{
"width": 413, "height": 528,
"data": {"name": "a"},
"encoding": {
 "x": {"field": "wn", "type": "quantitative", "title": "Wavenumber (cm⁻¹)", "scale": {"domain": [1478, 1751], "reverse": true, "nice": false, "zero": false},
  "axis": {"values": [1750, 1700, 1650, 1600, 1550, 1500], "format": "d", "title": "Wavenumber (cm⁻¹)", "grid": true, "gridColor": "#d9d9d9", "gridWidth": 1.5, "domain": false, "tickSize": 5, "tickColor": "#555", "tickWidth": 1.5, "labelFontSize": 20, "labelPadding": 4, "titleFontSize": 22, "titlePadding": 12}},
 "y": {"field": "y", "type": "quantitative", "title": "Absorbance", "scale": {"domain": [0, 5.28], "nice": false, "zero": false},
  "axis": {"title": "Absorbance", "labels": false, "ticks": false, "domain": false, "grid": false, "titleFontSize": 21, "titlePadding": 30}}
},
"layer": [
 {"transform": [{"filter": "datum.k == 'dotted'"}], "mark": {"type": "line", "interpolate": "monotone", "color": "#9a9a9a", "strokeWidth": 2, "strokeDash": [2, 3]}, "encoding": {"detail": {"field": "s"}}},
 {"transform": [{"filter": "datum.k == 'solid'"}], "mark": {"type": "line", "interpolate": "monotone", "color": "#111", "strokeWidth": 2.6}, "encoding": {"detail": {"field": "s"}}},
 {"transform": [{"filter": "datum.k == 'solid' && datum.wn == 1478"}], "mark": {"type": "text", "align": "left", "baseline": "middle", "dx": 8, "fontSize": 24, "color": "#222"}, "encoding": {"text": {"field": "s"}}},
 {"data": {"values": [{"t": "A", "wn": 1732, "y": 4.89}]}, "mark": {"type": "text", "fontSize": 14, "color": "#222"}, "encoding": {"text": {"field": "t"}}}
]
},
{
"width": 377, "height": 513,
"data": {"name": "b"},
"encoding": {
 "x": {"field": "wn", "type": "quantitative", "title": "Wavenumber (cm⁻¹)", "scale": {"domain": [1475, 1752], "reverse": true, "nice": false, "zero": false},
  "axis": {"values": [1750, 1700, 1650, 1600, 1550, 1500], "format": "d", "title": "Wavenumber (cm⁻¹)", "grid": true, "gridColor": "#d9d9d9", "gridWidth": 1.5, "domain": false, "tickSize": 5, "tickColor": "#555", "tickWidth": 1.5, "labelFontSize": 20, "labelPadding": 5, "titleFontSize": 27, "titlePadding": 20}},
 "y": {"field": "y", "type": "quantitative", "title": "2ⁿᵈ Deriv.", "scale": {"domain": [0, 5.13], "nice": false, "zero": false},
  "axis": {"title": "2ⁿᵈ Deriv.", "labels": false, "ticks": false, "domain": false, "grid": false, "titleFontSize": 25, "titlePadding": 22}}
},
"layer": [
 {"transform": [{"filter": "datum.k == 'dotted'"}], "mark": {"type": "line", "interpolate": "monotone", "color": "#9a9a9a", "strokeWidth": 2, "strokeDash": [2, 3]}, "encoding": {"detail": {"field": "s"}}},
 {"transform": [{"filter": "datum.k == 'solid'"}], "mark": {"type": "line", "interpolate": "monotone", "color": "#111", "strokeWidth": 2.6}, "encoding": {"detail": {"field": "s"}}},
 {"data": {"name": "bl"}, "transform": [{"filter": "datum.s != '1:1 Unlabeled'"}], "mark": {"type": "text", "align": "left", "baseline": "middle", "dx": 15, "fontSize": 23, "color": "#222"}, "encoding": {"text": {"field": "s"}}},
 {"data": {"name": "bl"}, "transform": [{"filter": "datum.s == '1:1 Unlabeled'"}], "mark": {"type": "text", "align": "left", "baseline": "middle", "dx": 4, "fontSize": 23, "color": "#222"}, "encoding": {"text": {"field": "s"}}},
 {"data": {"values": [{"t": "B", "wn": 1729, "y": 4.68}]}, "mark": {"type": "text", "fontSize": 22, "color": "#222"}, "encoding": {"text": {"field": "t"}}}
]
}
]
}
